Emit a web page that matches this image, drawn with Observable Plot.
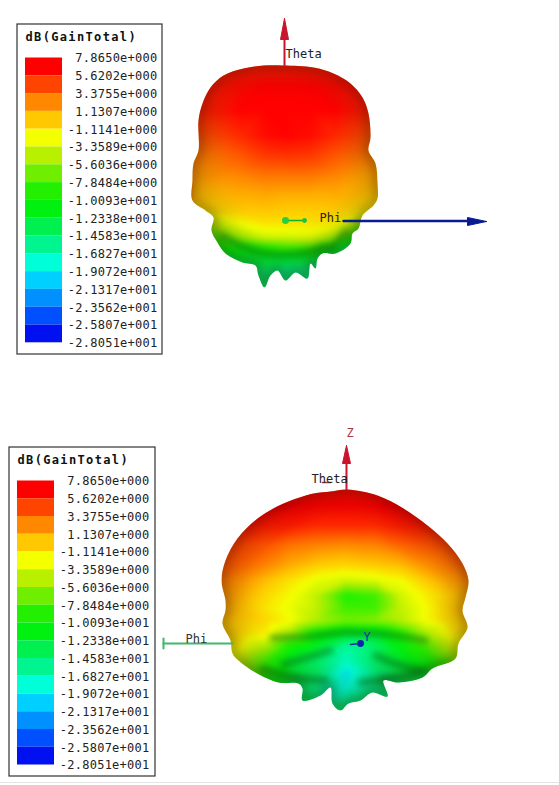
<!DOCTYPE html>
<html>
<head>
<meta charset="utf-8">
<style>
html,body{margin:0;padding:0;background:#fff}
svg{display:block}
</style>
<script src="https://cdn.jsdelivr.net/npm/d3@7"></script>
<script src="https://cdn.jsdelivr.net/npm/@observablehq/plot@0.6"></script>
</head>
<body>
<script>
const legendTitle = "dB(GainTotal)";
const legendLabels = ["7.8650e+000","5.6202e+000","3.3755e+000","1.1307e+000","-1.1141e+000","-3.3589e+000","-5.6036e+000","-7.8484e+000","-1.0093e+001","-1.2338e+001","-1.4583e+001","-1.6827e+001","-1.9072e+001","-2.1317e+001","-2.3562e+001","-2.5807e+001","-2.8051e+001"];
const legendColors = ["#ff0000","#ff4400","#ff8800","#ffc800","#f4ff00","#b8f000","#70ee00","#22f000","#00f010","#00f050","#00f590","#00ffd8","#00d0ff","#0090ff","#0050ff","#0010f0","#0000e0"];

// Upper pattern: silhouette, and gain sampled on a grid
const upperOutline = [[283,65],[313,67],[333,73],[350,83],[362,97],[368,113],[370,137],[368,150],[375,163],[377,183],[377,198],[373,205],[362,215],[358,228],[352,233],[350,243],[335,253],[322,253],[317,258],[315,268],[310,263],[307,278],[295,272],[285,280],[277,270],[270,275],[264,287],[258,275],[255,265],[242,262],[225,253],[217,242],[211,230],[213,217],[205,210],[192,200],[192,180],[193,163],[198,150],[198,120],[202,103],[210,87],[223,75],[243,68],[263,65]];
const upperX = [190,215,240,265,285,310,335,360,385];
const upperY = [60,85,110,135,155,175,195,210,223,237,247,257,270,290];
const upperGain = [
 [6.5,6.5,6.5,6.5,6.5,6.5,6.5,6.5,6.5],
 [6.5,7,7.5,7.8,7.8,7.8,7.5,7,6.5],
 [6.5,7,7.8,7.8,7.8,7.8,7.8,7,6],
 [5,5.5,6.5,7.5,7.8,7.5,6.5,5.5,4.5],
 [3.5,4,5,6,6.2,6,5,4,3],
 [2.5,3,3.5,4,4,4,3.5,2.5,2],
 [1.5,1.5,2,2.2,2,2,2,1.5,0.5],
 [0,0.3,1,1.2,1,1,1,0,-1.5],
 [-4,-3,-1,0,0,0,-0.5,-5,-8],
 [-8,-7,-4.5,-2.5,-2.5,-2,-4.5,-11,-13],
 [-9,-9,-9,-8,-7,-7,-10,-14,-14],
 [-10,-11,-11,-11,-11,-11,-13,-14,-14],
 [-12,-13,-13,-13,-14,-14,-14,-14,-14],
 [-13,-13,-13,-13,-13,-13,-13,-13,-13]
];
const upperCreases = [
 [[222,235],[240,245],[265,253],[300,253],[325,246]],
 [[330,248],[345,232]]
];

// Lower pattern: silhouette, and gain sampled on a grid
const lowerOutline = [[347,489],[377,495],[403,508],[427,525],[447,543],[462,563],[468,580],[465,597],[462,610],[467,627],[458,643],[455,658],[432,668],[422,677],[398,682],[383,680],[387,696],[372,692],[360,700],[348,703],[340,710],[332,703],[330,687],[320,695],[302,700],[302,688],[298,683],[278,682],[255,672],[238,660],[232,653],[230,640],[222,623],[225,610],[225,600],[221,580],[225,560],[237,538],[257,518],[283,503],[313,493],[330,491]];
const lowerX = [215,240,265,290,315,345,375,400,425,450,475];
const lowerY = [485,505,525,545,565,580,595,607,620,633,647,660,673,687,710];
const lowerGain = [
 [7.2,7.2,7.2,7.2,7.2,7.2,7.2,7.2,7.2,7.2,7.2],
 [7,7.5,7.8,7.8,7.8,7.8,7.8,7.8,7.5,7,6.5],
 [6.5,7,7,7,6.5,6.5,6.5,7,7,7,6.5],
 [6,5.5,5,4,3.5,3.2,3.5,4.5,5,5.5,6],
 [5,4.5,3.5,2,1,0.5,1,1.5,3,4,5],
 [4,3,1.5,0,-1.5,-2.5,-2,-1,1,2.5,3.5],
 [3,2,0.5,-1,-3,-8,-7,-2.5,-0.5,1,2.5],
 [2.5,1.5,0,-1.5,-3,-7,-7,-3,-1,1,2],
 [1.5,1,0.5,-1,-3.5,-5.5,-5,-3.5,-1,0.5,1.5],
 [1,0.5,-0.5,-4,-9,-11,-11,-8,-4,-0.5,1],
 [0,-1,-4,-9,-11,-15,-13,-10,-7,-3,-1],
 [-3,-3,-7,-11,-13,-16,-13,-11,-9,-6,-3],
 [-5,-5,-8,-11,-13,-18,-14,-12,-11,-8,-6],
 [-10,-10,-10,-12,-14,-17,-14,-13,-12,-10,-10],
 [-13,-13,-13,-13,-13,-13,-13,-13,-13,-13,-13]
];
const lowerCreases = [
 [[272,637],[310,636],[345,632],[385,634],[425,640]],
 [[283,664],[310,656],[330,650]],
 [[375,655],[400,665],[425,670]],
 [[262,668],[295,677],[325,680]],
 [[360,682],[390,678],[420,672]]
];

// Axis arrows and labels
const arrowBodies = [
 {pts:[[284,18],[288,39],[280,39]],color:"#c8142c"},
 {pts:[[486,221],[467,225],[467,217]],color:"#0a1a90"},
 {pts:[[346,445],[350,463],[342,463]],color:"#c8142c"}
];
const axisLines = [
 {pts:[[284,39],[284,65]],color:"#c8142c",w:2},
 {pts:[[343,220.5],[470,220.5]],color:"#0a1a90",w:2.5},
 {pts:[[285,220],[305,220]],color:"#10b030",w:1.5},
 {pts:[[346,463],[346,489]],color:"#c8142c",w:2},
 {pts:[[163,643],[232,643]],color:"#40b868",w:2},
 {pts:[[163,638],[163,648]],color:"#40b868",w:2},
 {pts:[[350,644],[360,643]],color:"#1030a0",w:1.5},
 {pts:[[322,482],[330,482]],color:"#a03040",w:1.5}
];
const axisDots = [
 {x:285,y:220,r:4,color:"#22d040"},
 {x:304,y:220,r:2,color:"#22c040"},
 {x:360,y:643,r:4,color:"#1020b0"}
];
const axisText = [
 {t:"Theta",x:285,y:54,color:"#222"},
 {t:"Phi",x:319,y:218,color:"#222"},
 {t:"Theta",x:311,y:479,color:"#222"},
 {t:"Phi",x:185,y:639,color:"#333"},
 {t:"Z",x:346,y:433,color:"#b03848"},
 {t:"Y",x:363,y:637,color:"#1828a8"}
];

const ascDomain = legendLabels.map(Number).reverse();
const ascRange = legendColors.slice().reverse();
const gridPoints = (X, Y, G) => Y.flatMap((y, r) => X.map((x, c) => ({x, y, v: G[r][c]})));
const closed = o => [...o, o[0]].map(([x, y]) => ({x, y}));
let clipSeq = 0;
const clipTo = outline => (I, s, v, d, c, next) => {
  const g = next(I, s, v, d, c);
  const id = "shape-clip-" + (++clipSeq);
  const cp = d3.create("svg:clipPath").attr("id", id);
  cp.append("path").attr("d", d3.line().x(p => s.x(p[0])).y(p => s.y(p[1])).curve(d3.curveCatmullRomClosed)(outline));
  g.appendChild(cp.node());
  g.setAttribute("clip-path", `url(#${id})`);
  return g;
};
const spaced = px => (I, s, v, d, c, next) => {
  const g = next(I, s, v, d, c);
  g.style.letterSpacing = px + "px";
  return g;
};
const blob = (outline, X, Y, G, creases, creaseColor) => [
  Plot.raster(gridPoints(X, Y, G), {x: "x", y: "y", fill: "v", interpolate: "barycentric", pixelSize: 1, imageFilter: "blur(2px)", render: clipTo(outline)}),
  Plot.line(creases.flatMap((pts, k) => pts.map(([x, y]) => ({x, y, k}))), {x: "x", y: "y", z: "k", curve: "catmull-rom", stroke: creaseColor, strokeWidth: 6, strokeOpacity: 0.55, imageFilter: "blur(3px)", render: clipTo(outline)}),
  Plot.line(closed(outline), {x: "x", y: "y", curve: "catmull-rom", stroke: "#200000", strokeWidth: 34, strokeOpacity: 0.16, imageFilter: "blur(11px)", render: clipTo(outline)}),
  Plot.line(closed(outline), {x: "x", y: "y", curve: "catmull-rom", stroke: "#200000", strokeWidth: 10, strokeOpacity: 0.22, imageFilter: "blur(4px)", render: clipTo(outline)})
];
const legend = (left, top, boxW, boxH, labelX, step) => [
  Plot.rect([0], {x1: left, x2: left + boxW, y1: top, y2: top + boxH, fill: "white", stroke: "#333", strokeWidth: 1.2}),
  Plot.text([legendTitle], {x: left + 8, y: top + 13, text: d => d, textAnchor: "start", fontFamily: "DejaVu Sans Mono", fontWeight: "bold", fontSize: 12, fill: "#111", render: spaced(1.35)}),
  Plot.rect(legendLabels.slice(0, 16), {x1: left + 8, x2: left + 45, y1: (d, i) => top + 33.5 + i * step, y2: (d, i) => top + 33.5 + (i + 1) * step, fill: d => +d, imageFilter: "blur(0.6px)"}),
  Plot.text(legendLabels, {x: labelX, y: (d, i) => top + 34 + i * step, text: d => d, textAnchor: "end", fontFamily: "DejaVu Sans Mono", fontSize: 12, fill: "#222", render: spaced(0.25)})
];

const chart = Plot.plot({
  width: 559, height: 785, margin: 0,
  x: {domain: [0, 559], range: [0, 559], axis: null},
  y: {domain: [0, 785], range: [0, 785], axis: null},
  color: {type: "linear", domain: ascDomain, range: ascRange, interpolate: "rgb"},
  style: {background: "#fff"},
  marks: [
    ...legend(17, 24, 145, 330, 157, 17.8),
    ...legend(9, 447, 146, 329, 149, 17.75),
    ...blob(upperOutline, upperX, upperY, upperGain, upperCreases, "#087a10"),
    ...blob(lowerOutline, lowerX, lowerY, lowerGain, lowerCreases, "#066a10"),
    ...axisLines.map(a => Plot.line(a.pts.map(([x, y]) => ({x, y})), {x: "x", y: "y", stroke: a.color, strokeWidth: a.w})),
    ...arrowBodies.map(a => Plot.line(closed(a.pts), {x: "x", y: "y", fill: a.color, stroke: a.color, strokeWidth: 1})),
    Plot.dot(axisDots, {x: "x", y: "y", r: "r", fill: d => d.color, stroke: "none"}),
    Plot.text(axisText, {x: "x", y: "y", text: "t", fill: d => d.color, textAnchor: "start", fontFamily: "DejaVu Sans Mono", fontSize: 12}),
    Plot.ruleY([782], {stroke: "#e4e4e4"})
  ]
});
chart.removeAttribute("style");
chart.style.background = "#fff";
document.body.appendChild(chart);
</script>
</body>
</html>
